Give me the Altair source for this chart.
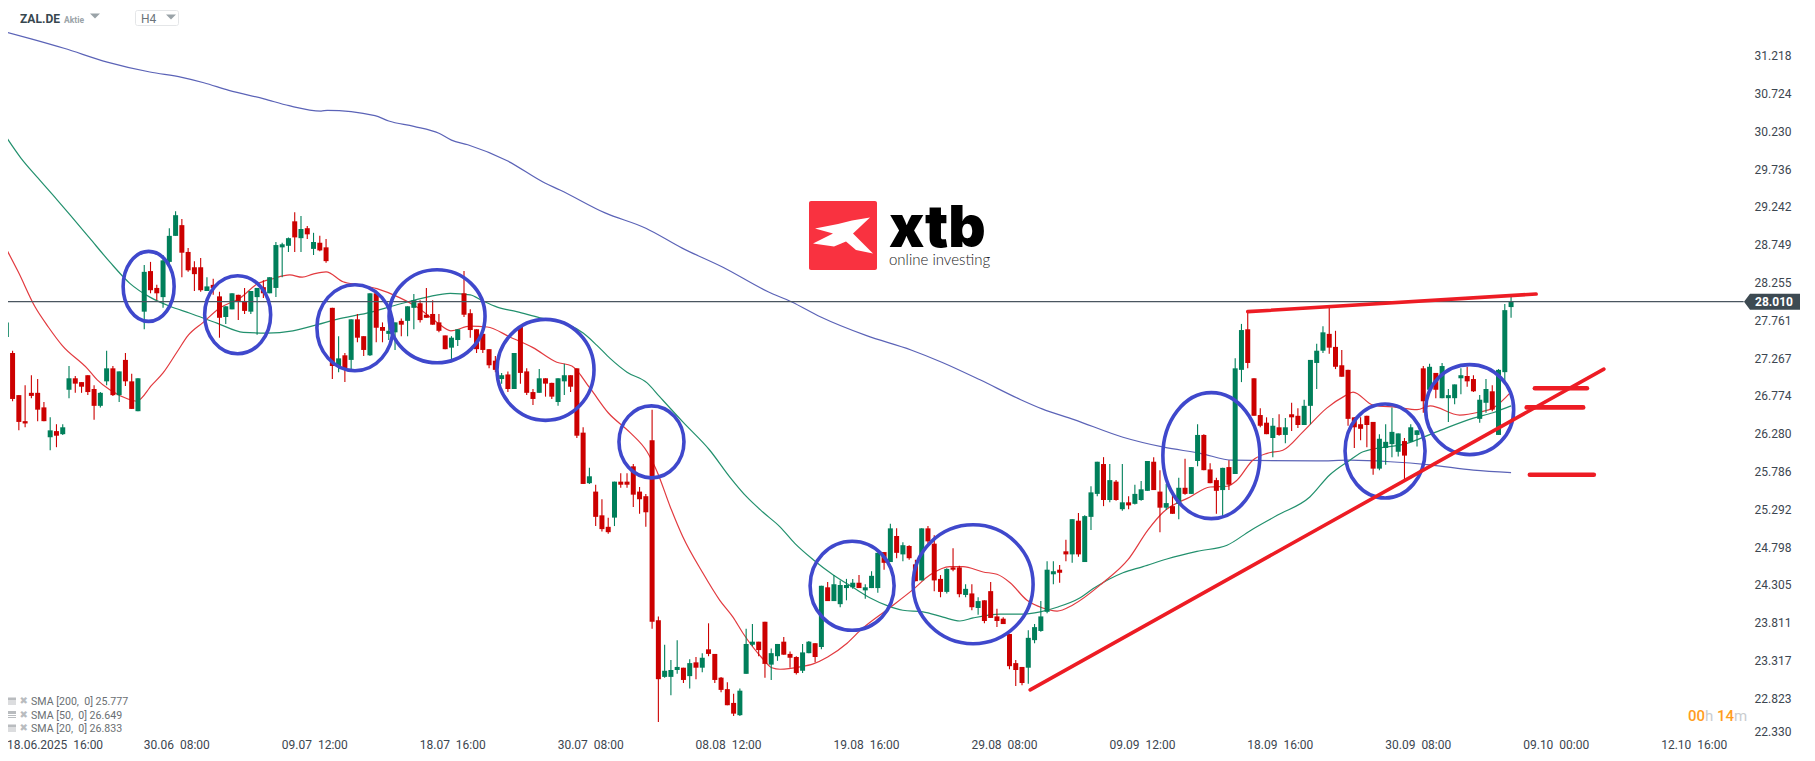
import altair as alt
import pandas as pd

highs = [
27.95,27.37,26.79,26.92,27.05,27.00,26.70,26.50,26.41,26.41,
27.17,27.04,26.96,27.05,26.92,26.83,27.37,27.17,27.10,27.34,
27.07,27.01,28.49,28.53,28.23,28.62,28.97,29.19,29.09,28.71,
28.54,28.58,28.33,28.31,28.14,27.95,28.12,28.10,28.19,28.15,
28.19,28.29,28.33,28.79,28.78,28.85,29.18,29.13,29.00,28.91,
28.87,28.83,27.93,27.56,27.34,27.78,27.85,27.56,28.12,28.12,
27.74,27.85,27.74,27.79,27.95,28.11,28.03,28.19,28.03,27.85,
27.57,27.56,27.65,28.41,27.91,27.65,27.59,27.39,27.30,27.08,
27.10,27.34,27.68,27.14,26.87,27.13,27.01,26.95,27.01,27.20,
27.05,27.14,26.37,25.84,25.62,25.43,25.19,25.66,25.77,25.77,
25.89,25.59,25.50,26.60,23.90,23.53,23.33,23.59,23.23,23.34,
23.37,23.42,23.81,23.41,23.11,23.04,22.89,22.96,23.74,23.80,
23.57,23.83,23.48,23.54,23.63,23.44,23.38,23.54,23.58,23.55,
24.30,24.35,24.44,24.37,24.39,24.39,24.44,24.32,24.49,24.73,
24.74,25.11,25.05,24.87,24.83,24.64,25.05,25.08,24.96,24.44,
24.53,24.79,24.56,24.32,24.32,24.15,24.11,24.35,24.00,23.89,
23.67,23.33,23.24,23.72,23.80,24.10,24.62,24.62,24.57,24.90,
25.17,25.25,25.22,25.60,25.92,25.98,25.89,25.68,25.89,25.47,
25.62,25.67,25.93,25.98,25.81,25.63,25.50,25.71,25.96,25.85,
26.41,26.28,25.90,25.71,25.84,25.94,27.27,27.72,27.87,27.01,
26.62,26.50,26.49,26.54,26.49,26.69,26.62,26.73,27.25,27.46,
27.69,27.95,27.63,27.38,27.12,26.50,26.50,26.52,26.44,26.28,
26.41,26.63,26.29,26.23,26.41,26.33,27.17,27.20,27.08,27.21,
26.87,26.93,27.14,27.16,27.05,26.79,27.00,26.92,27.13,27.98,28.07]

body_tops = [
27.74,27.34,26.79,26.45,26.82,26.82,26.63,26.33,26.32,26.37,
27.01,27.01,26.96,27.05,26.87,26.82,27.14,27.14,27.10,27.25,
26.97,27.01,28.40,28.41,28.19,28.55,28.87,29.14,29.01,28.66,
28.46,28.46,28.21,28.23,28.08,27.95,28.12,28.10,28.02,28.15,
28.19,28.20,28.33,28.75,28.76,28.84,29.06,28.96,28.97,28.79,
28.78,28.72,27.93,27.27,27.31,27.78,27.78,27.56,28.12,28.12,
27.68,27.63,27.74,27.76,27.95,28.03,27.99,27.84,27.85,27.74,
27.57,27.54,27.65,28.12,27.86,27.65,27.59,27.39,27.24,27.05,
27.06,27.34,27.68,27.10,26.83,27.01,27.01,26.95,27.01,27.05,
27.05,27.14,26.30,25.73,25.53,25.22,25.07,25.66,25.66,25.66,
25.86,25.53,25.47,26.20,23.85,23.19,23.20,23.24,23.23,23.29,
23.30,23.36,23.47,23.41,23.10,22.95,22.77,22.93,23.54,23.57,
23.57,23.83,23.42,23.54,23.57,23.41,23.37,23.43,23.57,23.55,
24.30,24.28,24.32,24.31,24.31,24.34,24.34,24.28,24.43,24.73,
24.74,25.05,24.95,24.83,24.82,24.58,25.05,25.05,24.85,24.39,
24.52,24.54,24.54,24.26,24.20,24.10,24.11,24.23,23.90,23.87,
23.67,23.29,23.24,23.62,23.76,23.90,24.51,24.49,24.51,24.75,
25.17,25.15,25.21,25.52,25.92,25.89,25.68,25.66,25.39,25.39,
25.50,25.56,25.93,25.92,25.53,25.38,25.34,25.58,25.58,25.85,
26.27,26.27,25.82,25.68,25.84,25.85,27.14,27.64,27.65,27.01,
26.53,26.43,26.39,26.37,26.37,26.54,26.52,26.65,27.25,27.37,
27.61,27.59,27.42,27.18,27.12,26.50,26.41,26.52,26.44,26.22,
26.18,26.31,26.29,26.19,26.37,26.33,27.14,27.16,27.08,27.17,
26.79,26.93,27.05,27.04,27.00,26.73,26.87,26.84,27.12,27.90,28.01]

body_bottoms = [
27.55,26.74,26.44,26.42,26.78,26.60,26.45,26.24,26.26,26.28,
26.86,26.94,26.90,26.83,26.65,26.65,26.97,26.79,26.79,26.97,
26.61,26.58,27.88,28.16,28.12,28.07,28.53,28.87,28.65,28.42,
28.37,28.16,28.15,28.19,27.80,27.81,27.91,28.02,27.89,27.88,
28.07,28.12,28.12,28.19,28.72,28.74,28.85,28.84,28.89,28.70,
28.68,28.54,27.17,27.17,27.14,27.25,27.54,27.38,27.31,27.67,
27.63,27.59,27.61,27.71,27.76,27.93,27.77,27.80,27.71,27.63,
27.39,27.41,27.51,27.84,27.64,27.39,27.38,27.18,27.12,27.00,
26.87,26.87,27.08,26.82,26.74,26.82,26.94,26.77,26.70,26.97,
26.90,26.26,25.63,25.64,25.20,25.04,25.00,25.19,25.62,25.62,
25.49,25.43,25.26,23.83,23.08,23.11,23.11,23.20,23.07,23.12,
23.23,23.23,23.41,23.07,22.94,22.74,22.63,22.61,23.15,23.53,
23.46,23.28,23.27,23.38,23.40,23.36,23.16,23.19,23.42,23.37,
23.50,24.10,24.10,24.06,24.27,24.28,24.27,24.24,24.27,24.27,
24.60,24.61,24.73,24.71,24.66,24.36,24.37,24.88,24.37,24.22,
24.22,24.51,24.19,24.18,24.02,24.01,23.84,23.88,23.84,23.80,
23.25,23.20,23.03,23.23,23.59,23.71,23.96,24.45,24.47,24.71,
24.71,24.71,24.61,25.20,25.50,25.42,25.42,25.42,25.30,25.35,
25.37,25.42,25.54,25.55,25.32,25.32,25.24,25.37,25.50,25.50,
25.93,25.81,25.64,25.54,25.55,25.62,25.76,27.12,27.21,26.52,
26.39,26.28,26.23,26.27,26.27,26.50,26.40,26.40,26.65,27.21,
27.37,27.41,27.16,27.03,26.48,26.37,26.35,26.40,25.83,25.83,
26.10,26.15,26.05,26.00,26.18,26.27,26.71,26.86,26.86,26.75,
26.75,26.75,27.01,26.97,26.84,26.48,26.69,26.60,26.27,27.09,27.94]

lows = [
27.52,26.71,26.33,26.37,26.75,26.45,26.45,26.07,26.11,26.27,
26.75,26.82,26.82,26.79,26.47,26.63,26.92,26.78,26.70,26.91,
26.61,26.58,27.65,28.12,28.03,27.93,28.48,28.87,28.33,28.40,
28.15,28.14,28.15,28.10,27.54,27.72,27.91,27.77,27.85,27.85,
27.58,28.06,28.12,28.07,28.33,28.66,28.66,28.66,28.83,28.62,
28.67,28.52,27.00,27.09,26.96,27.12,27.48,27.30,27.30,27.48,
27.48,27.51,27.38,27.56,27.56,27.65,27.74,27.80,27.71,27.61,
27.39,27.25,27.43,27.81,27.54,27.34,27.34,27.14,27.09,26.94,
26.83,26.87,26.94,26.79,26.66,26.82,26.77,26.74,26.65,26.79,
26.83,26.23,25.63,25.63,25.08,25.01,24.98,25.08,25.58,25.58,
25.33,25.24,25.07,23.74,22.52,23.10,22.87,23.15,23.03,22.96,
23.08,23.17,23.38,23.03,22.91,22.74,22.60,22.60,23.15,23.51,
23.38,23.10,23.07,23.32,23.40,23.23,23.14,23.16,23.42,23.30,
23.47,24.10,24.10,24.02,24.11,24.26,24.27,24.13,24.27,24.21,
24.51,24.61,24.66,24.62,24.64,24.36,24.37,24.85,24.23,24.15,
24.20,24.49,24.15,24.15,23.98,23.92,23.81,23.88,23.76,23.80,
23.21,22.99,23.00,23.02,23.55,23.70,23.94,24.32,24.34,24.62,
24.60,24.68,24.61,25.03,25.47,25.34,25.39,25.41,25.28,25.30,
25.36,25.41,25.54,25.55,25.00,25.29,25.24,25.17,25.49,25.50,
25.86,25.81,25.64,25.24,25.21,25.55,25.76,26.96,27.14,26.52,
26.37,26.28,25.98,26.26,26.16,26.32,26.36,26.40,26.41,26.87,
27.34,27.33,27.13,27.03,26.39,26.10,26.20,26.11,25.75,25.81,
25.88,25.98,25.99,25.68,26.18,26.12,26.56,26.82,26.75,26.75,
26.44,26.67,26.80,26.90,26.83,26.43,26.56,26.58,26.27,26.97,27.80]

direction_groups = [
"uddddddudu","udddduudud","duudduuudd","ddudduuddu",
"uduuuududu","dddududdud","duuduudddd","duuddddddu","dudddudduu",
"dddudddudd","ddddduuudu","duddddduuu","dduuddduud","uduuuuduuu",
"dududduddd","uddududddd","ddduuuuudd","uduuududud",
"uuuddududu","uddduduudd","ddududduuu","uddddddddu","uuuduududu","uuudduuduuu",
]
direction_text = "".join(direction_groups)
is_up = [c == "u" for c in direction_text]

assert len(highs) == 241 and len(body_tops) == 241 and len(body_bottoms) == 241 and len(lows) == 241 and len(is_up) == 241, (len(highs), len(body_tops), len(body_bottoms), len(lows), len(is_up))

sma200_x = [0,4.1,9.2,16.1,22.9,28,31.5,35.5,41.1,45.1,50.2,51.2,58.8,61,65,69,71,73.6,79.9,85.9,88.3,95.5,102,107.8,114.3,121.5,125.2,129.9,137.1,144.3,149.2,155.3,161.8,165.2,170.3,178.1,184.6,190.4,195.6,209,214.3,220.7,227,234,240]
sma200_y = [31.53,31.44,31.32,31.14,31.01,30.94,30.87,30.77,30.66,30.57,30.50,30.51,30.44,30.37,30.30,30.21,30.12,30.06,29.85,29.56,29.47,29.17,28.97,28.71,28.46,28.14,28.01,27.81,27.57,27.38,27.22,26.99,26.73,26.61,26.47,26.24,26.11,26.03,25.94,25.93,25.94,25.92,25.88,25.81,25.777]

sma50_x = [0,2.3,5,8.1,10.2,13.3,16.5,19.7,22.9,26.1,29.3,33.6,37.8,41.6,45.7,49.6,52.7,57.5,62.3,67.1,70.8,74,76,78.3,81.4,85.1,89.4,92,94.2,96.3,99,102.2,104.2,107.9,112.2,115.4,118.1,120.7,123.4,125.8,128.7,131.9,135,137.8,140.5,143,146.2,149.4,152.1,154.2,158.5,161.7,164.9,167.6,171.2,173.3,178.1,181.3,185.1,189.9,194.7,198.4,202.7,207.9,211.1,214.3,216.4,223.4,228.7,234,237.1,240]
sma50_y = [30.16,29.89,29.63,29.34,29.14,28.84,28.53,28.25,28.07,27.95,27.86,27.73,27.61,27.60,27.63,27.71,27.78,27.86,27.97,28.07,28.12,28.10,28.02,27.94,27.88,27.80,27.72,27.60,27.44,27.27,27.09,26.95,26.77,26.44,26.07,25.72,25.46,25.26,25.07,24.85,24.64,24.44,24.28,24.14,24.04,23.98,23.96,23.89,23.84,23.88,23.93,23.93,23.96,24.02,24.14,24.26,24.47,24.55,24.65,24.75,24.83,25.02,25.22,25.46,25.75,25.94,26.05,26.16,26.33,26.49,26.56,26.649]

sma20_x = [0,1.9,4.6,6.7,8.9,12.9,14.5,16.5,19.4,20.8,23.2,25,27.2,29,31.4,34.1,37.3,40,42.5,45.2,47.2,48.9,51,53.7,56.4,59.1,62.8,65.5,68.7,70.9,74,76.7,80.3,84,87.8,90.2,93.1,96,99.5,102.2,103.8,105.9,107.9,111,113.8,115.9,117.5,120.5,122.1,123.4,126.6,128.7,131,134.1,136.5,141,144.6,147.3,150.5,152.6,155.8,158,160.1,162.8,165.3,167.6,170.1,174.9,178.9,182.1,184.5,188.8,192,194.7,196.3,198.8,201.1,203.6,206.8,210.6,213.5,214.8,218,221.8,225,227.1,231.8,235,237.1,240]
sma20_y = [28.70,28.40,27.94,27.68,27.44,27.14,26.99,26.86,26.74,26.71,26.92,27.08,27.35,27.57,27.74,27.93,28.06,28.24,28.31,28.36,28.33,28.37,28.40,28.27,28.23,28.18,28.06,27.94,27.74,27.63,27.69,27.68,27.55,27.41,27.22,27.17,26.88,26.56,26.30,26.05,25.79,25.33,24.94,24.48,24.11,23.89,23.68,23.36,23.23,23.21,23.24,23.28,23.37,23.55,23.74,24.02,24.25,24.44,24.55,24.55,24.48,24.45,24.34,24.11,24.01,23.97,24.05,24.34,24.64,25.03,25.26,25.46,25.59,25.60,25.68,25.94,26.03,26.07,26.31,26.62,26.78,26.83,26.66,26.63,26.60,26.65,26.53,26.57,26.62,26.833]

circle_x = [22.7,36.9,55.6,68.7,86,102.9,134.9,154.2,192.2,219.9,233.4]
circle_y = [28.21,27.84,27.67,27.82,27.12,26.18,24.30,24.32,26.0,26.06,26.6]
circle_rx = [25.5,33,38,48,48.5,32.5,42,60,48.5,40,44]
circle_ry = [35,39,43,46.5,50.5,36,44.5,59.5,63,47,45]

trend_names = ["support","support","resistance","resistance"]
trend_x = [163.3,254.8,198,244]
trend_y = [22.94,27.13,27.88,28.11]

level_names = ["h1","h1","h2","h2","h3","h3"]
level_x = [243.8,252.1,242.5,251.5,243,253.2]
level_y = [26.88,26.88,26.63,26.63,25.75,25.75]

price_ticks = [31.218,30.724,30.230,29.736,29.242,28.749,28.255,27.761,27.267,26.774,26.280,25.786,25.292,24.798,24.305,23.811,23.317,22.823]
last_tick = [22.330]
last_price = 28.010

NB = "\u00a0\u00a0"
date_positions = [27.2,49.2,71.2,93.2,115.2,137.2,159.2,181.2,203.2,225.2,247.2,269.2]
date_labels = ["30.06","09.07","18.07","30.07","08.08","19.08","29.08","09.09","18.09","30.09","09.10","12.10"]
time_labels = ["08:00","12:00","16:00","08:00","12:00","16:00","08:00","12:00","16:00","08:00","00:00","16:00"]
legend_rows = ["SMA [200,\u00a0\u00a00] 25.777","SMA [50,\u00a0\u00a00] 26.649","SMA [20,\u00a0\u00a00] 26.833"]

COL_UP, COL_DN = "#007f5a", "#cc0000"
W, H = 1799, 745
x_scale = alt.Scale(domain=[0.27, 287.2], range=[0, W], nice=False, zero=False, padding=0)
y_scale = alt.Scale(domain=[22.116, 31.846], range=[H, 0], nice=False, zero=False, padding=0)
X = lambda f, **k: alt.X(f, type="quantitative", scale=x_scale, axis=None, **k)
Y = lambda f, **k: alt.Y(f, type="quantitative", scale=y_scale, axis=None, **k)

candles = pd.DataFrame({"i": range(241), "high": highs, "low": lows, "top": body_tops,
                        "bottom": body_bottoms, "dir": ["up" if u else "down" for u in is_up]})
col = alt.Color("dir:N", scale=alt.Scale(domain=["up", "down"], range=[COL_UP, COL_DN]), legend=None)
wicks = alt.Chart(candles).mark_rule(strokeWidth=1.1).encode(X("i"), Y("high"), y2="low", color=col)
bodies = alt.Chart(candles).mark_bar(size=5, strokeWidth=0).encode(X("i"), Y("top"), y2="bottom", color=col)

def sma(xs, ys, color):
    return alt.Chart(pd.DataFrame({"i": xs, "p": ys})).mark_line(color=color, strokeWidth=1.2, interpolate="monotone").encode(X("i"), Y("p"))

line200 = sma(sma200_x, sma200_y, "#5b63b7")
line50 = sma(sma50_x, sma50_y, "#22906d")
line20 = sma(sma20_x, sma20_y, "#e23a3f")

price_line = alt.Chart(pd.DataFrame({"a": [0.27], "b": [277.1], "p": [last_price]})).mark_rule(color="#4a5660", strokeWidth=1.3).encode(X("a"), x2="b", y=Y("p"))

def ellipse_path(k):
    return f"M-1,0A1,{k:.4f},0,1,1,1,0A1,{k:.4f},0,1,1,-1,0Z"

circles = pd.DataFrame({"i": circle_x, "p": circle_y,
                        "path": [ellipse_path(b / a) for a, b in zip(circle_rx, circle_ry)],
                        "s": [(2 * a) ** 2 for a in circle_rx]})
rings = alt.Chart(circles).mark_point(filled=False, opacity=1, strokeWidth=3.6, color="#3f48cc").encode(
    X("i"), Y("p"), shape=alt.Shape("path:N", scale=None), size=alt.Size("s:Q", scale=None))

trends = alt.Chart(pd.DataFrame({"n": trend_names, "i": trend_x, "p": trend_y})).mark_line(
    color="#ed1c24", strokeWidth=3.6, strokeCap="round").encode(X("i"), Y("p"), detail="n:N")
levels = alt.Chart(pd.DataFrame({"n": level_names, "i": level_x, "p": level_y})).mark_line(
    color="#ed1c24", strokeWidth=4.6, strokeCap="round").encode(X("i"), Y("p"), detail="n:N")

def axis_text(values, dy=0):
    return alt.Chart(pd.DataFrame({"p": values, "t": [f"{v:.3f}" for v in values]})).mark_text(
        font="Roboto", fontSize=12, color="#3c4650", align="center", baseline="middle", dy=dy
    ).encode(x=alt.value(1773 - 8), y=Y("p"), text="t:N")

y_labels = axis_text(price_ticks)
y_last = axis_text(last_tick, dy=-5)

x_labels = alt.Chart(pd.DataFrame({"i": date_positions, "t": [d + NB + t for d, t in zip(date_labels, time_labels)]})).mark_text(
    font="Roboto", fontSize=12, color="#3c4650", align="center", baseline="middle"
).encode(X("i"), y=alt.value(745 - 8), text="t:N")

tag_shape = "M-28,0L-22,-8L28,-8L28,8L-22,8Z"
price_tag = alt.Chart(pd.DataFrame({"p": [last_price], "shape": [tag_shape], "s": [4]})).mark_point(
    filled=True, opacity=1, color="#3d4a52", strokeWidth=0
).encode(x=alt.value(1772 - 8), y=Y("p"), shape=alt.Shape("shape:N", scale=None), size=alt.Size("s:Q", scale=None))
price_txt = alt.Chart(pd.DataFrame({"p": [last_price], "t": [f"{last_price:.3f}"]})).mark_text(
    font="Roboto", fontSize=12, fontWeight="bold", color="white", align="center", baseline="middle"
).encode(x=alt.value(1774 - 8), y=Y("p"), text="t:N")

def label(t, px, py, **kw):
    kw.setdefault("font", "Roboto")
    kw.setdefault("baseline", "middle")
    kw.setdefault("align", "left")
    return alt.Chart(pd.DataFrame({"t": [t]})).mark_text(**kw).encode(
        x=alt.value(px - 8), y=alt.value(py - 8), text="t:N")

def glyph(path, px, py, color, **kw):
    return alt.Chart(pd.DataFrame({"shape": [path], "s": [4]})).mark_point(
        filled=True, opacity=1, color=color, strokeWidth=0, **kw
    ).encode(x=alt.value(px - 8), y=alt.value(py - 8),
             shape=alt.Shape("shape:N", scale=None), size=alt.Size("s:Q", scale=None))

def box(x0, y0, x1, y1, **kw):
    return alt.Chart(pd.DataFrame({"a": [0]})).mark_rect(**kw).encode(
        x=alt.value(x0 - 8), x2=alt.value(x1 - 8), y=alt.value(y0 - 8), y2=alt.value(y1 - 8))

tri = "M-5,-2.5L5,-2.5L0,2.5Z"
chrome = [
    label("ZAL.DE", 20, 18.5, fontSize=12, fontWeight="bold", color="#37474f"),
    label("Aktie", 64, 19.5, fontSize=8.5, fontWeight="bold", color="#9aa3a8"),
    glyph(tri, 95, 16, "#9aa3a8"),
    box(135.5, 10.5, 178.5, 25.5, fill="white", stroke="#e4e6e8", strokeWidth=1, cornerRadius=2),
    label("H4", 141, 19, fontSize=12, color="#6b747a"),
    glyph(tri, 171, 17, "#9aa3a8"),
    label("18.06.2025" + NB + "16:00", 7, 745, fontSize=12, color="#3c4650"),
    label("00", 1688, 716, fontSize=15, fontWeight=500, color="#ff9d1e"),
    label("h", 1705, 716, fontSize=15, color="#c9cccf"),
    label("14", 1717, 716, fontSize=15, fontWeight=500, color="#ff9d1e"),
    label("m", 1734, 716, fontSize=15, color="#c9cccf"),
]
bars_icon = "M-5,-3.5L5,-3.5L5,-0.5L-5,-0.5ZM-5,0.5L5,0.5L5,1.5L-5,1.5ZM-5,2.5L5,2.5L5,3.5L-5,3.5Z"
for row, py in zip(legend_rows, [702, 715.5, 729]):
    chrome.append(glyph(bars_icon, 11, py - 1, "#b9bcbf"))
    chrome.append(label("\u2716", 19.5, py - 1, font="DejaVu Sans", fontSize=10, color="#b9bcbf"))
    chrome.append(label(row, 31, py, fontSize=10.6, color="#6a6f73"))

x_path = "M27,-18L9,-15L-5,-11.5L-28,-7L-10,-2L-30,8L-9,11L3,6L13,14.5L30,18L10,-2Z"
logo = [
    box(809, 201, 877, 270, fill="#f93240", cornerRadius=2),
    glyph(x_path, 843, 235.5, "white"),
    label("xtb", 889, 247, font="Inter", fontSize=58, fontWeight=900, baseline="alphabetic", color="#000000"),
    label("online investing", 889, 260, font="Lato", fontSize=15, fontWeight=300, color="#222222"),
]

chart = alt.layer(
    line200, line50, line20, wicks, bodies, price_line, rings, trends, levels,
    y_labels, y_last, x_labels, price_tag, price_txt, *logo, *chrome
).resolve_scale(color="independent").properties(
    width=W, height=H, padding=0, autosize=alt.AutoSizeParams(type="none"), background="white"
).configure_view(strokeWidth=0)

chart.save("out.html", embed_options={"renderer": "svg", "actions": False})
